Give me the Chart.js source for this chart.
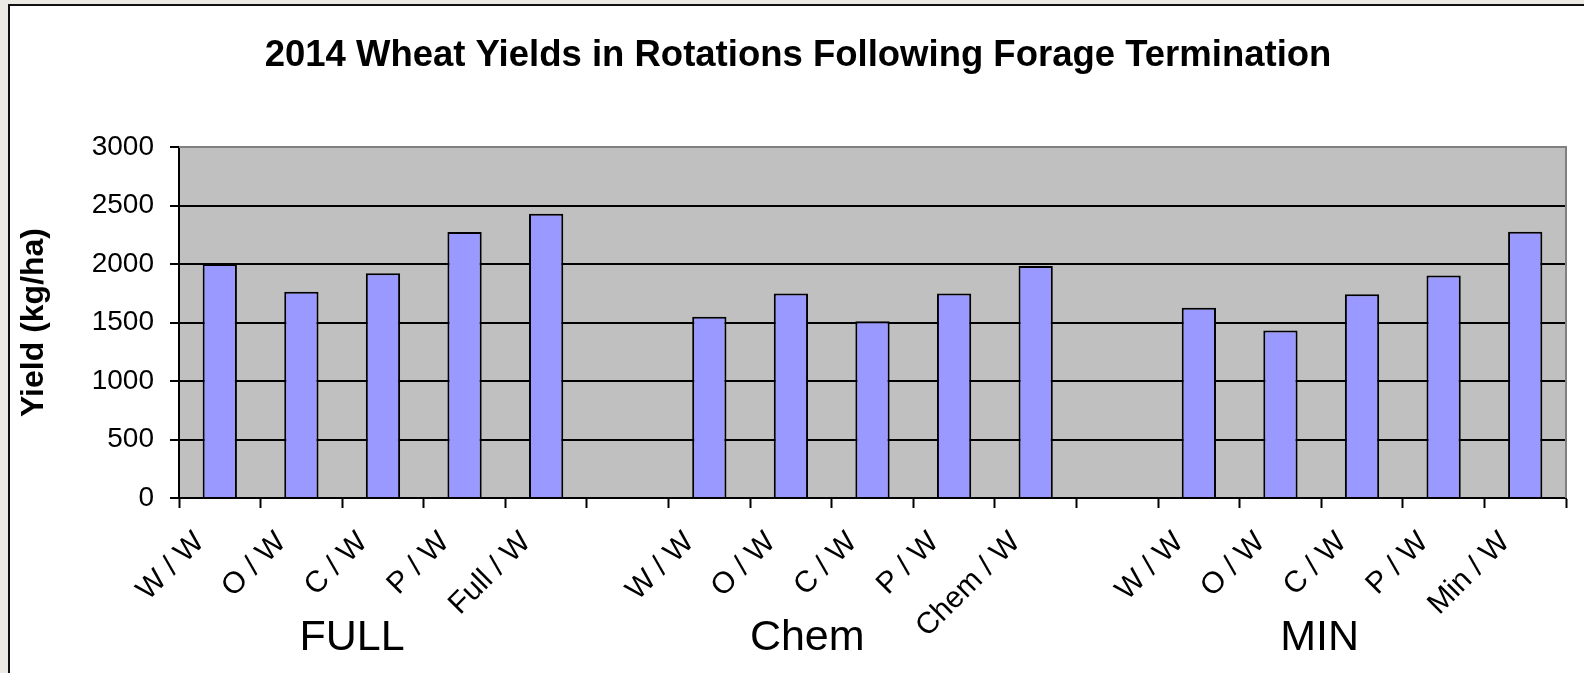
<!DOCTYPE html>
<html>
<head>
<meta charset="utf-8">
<title>2014 Wheat Yields</title>
<script src="https://cdn.jsdelivr.net/npm/chart.js@4"></script>
<style>
  html, body { margin: 0; padding: 0; background: #fff; }
  #wrap { width: 1584px; height: 673px; position: relative; }
</style>
</head>
<body>
<div id="wrap"><canvas id="grafico"></canvas></div>
<script>
// Datos del gráfico
const titulo = '2014 Wheat Yields in Rotations Following Forage Termination';
const categorias = ['W / W', 'O / W', 'C / W', 'P / W', 'Full / W', '',
                    'W / W', 'O / W', 'C / W', 'P / W', 'Chem / W', '',
                    'W / W', 'O / W', 'C / W', 'P / W', 'Min / W'];
const rendimiento = [2000, 1763, 1922, 2273, 2430, null,
                     1549, 1748, 1511, 1748, 1982, null,
                     1626, 1432, 1742, 1902, 2276];
const grupos = ['FULL', 'Chem', 'MIN'];
const ticksY = [0, 500, 1000, 1500, 2000, 2500, 3000];

const fuente = "'Liberation Sans', Arial, sans-serif";

// Marco, título, fondo del área del gráfico y etiquetas de grupo
const decoracion = {
    id: 'decoracion',
    beforeDraw(chart) {
        const ctx = chart.ctx;
        const a = chart.chartArea;
        ctx.save();
        ctx.fillStyle = '#eceae4';
        ctx.fillRect(0, 0, chart.width, chart.height);
        ctx.fillStyle = '#ffffff';
        ctx.fillRect(8, 4, chart.width - 8, chart.height - 4);
        ctx.strokeStyle = '#111';
        ctx.lineWidth = 2;
        ctx.beginPath();
        ctx.moveTo(9, chart.height);
        ctx.lineTo(9, 5);
        ctx.lineTo(chart.width, 5);
        ctx.stroke();
        ctx.fillStyle = '#c0c0c0';
        ctx.fillRect(a.left, a.top, a.right - a.left, a.bottom - a.top);
        // título
        ctx.fillStyle = '#000';
        ctx.font = 'bold 36.5px ' + fuente;
        ctx.textAlign = 'center';
        ctx.textBaseline = 'alphabetic';
        ctx.fillText(titulo, 798, 66);
        ctx.restore();
    },
    afterDatasetsDraw(chart) {
        const ctx = chart.ctx;
        const a = chart.chartArea;
        ctx.save();
        ctx.strokeStyle = '#808080';
        ctx.lineWidth = 2;
        ctx.beginPath();
        ctx.moveTo(a.left, a.top);
        ctx.lineTo(a.right, a.top);
        ctx.lineTo(a.right, a.bottom);
        ctx.stroke();
        ctx.restore();
    },
    afterDraw(chart) {
        const ctx = chart.ctx;
        const x = chart.scales.x;
        const paso = x.width / categorias.length;
        const anclas = [2.12, 7.7, 13.98];  // posición en unidades de categoría
        ctx.save();
        ctx.fillStyle = '#000';
        ctx.font = '43px ' + fuente;
        ctx.textAlign = 'center';
        ctx.textBaseline = 'alphabetic';
        grupos.forEach((g, i) => {
            ctx.fillText(g, x.left + anclas[i] * paso, 650);
        });
        ctx.restore();
    }
};

const ctx = document.getElementById('grafico').getContext('2d');
new Chart(ctx, {
    type: 'bar',
    data: {
        labels: categorias,
        datasets: [{
            label: 'Yield',
            data: rendimiento,
            backgroundColor: '#9999ff',
            borderColor: '#000',
            borderWidth: 2,
            barPercentage: 0.42,
            categoryPercentage: 1
        }]
    },
    options: {
        responsive: true,
        maintainAspectRatio: false,
        animation: false,
        layout: { padding: { left: 8, right: 18, top: 147, bottom: 0 } },
        plugins: {
            legend: { display: false },
            tooltip: { enabled: false },
            title: { display: false }
        },
        scales: {
            x: {
                offset: true,
                grid: {
                    offset: true,
                    drawOnChartArea: false,
                    tickLength: 10,
                    tickColor: '#000',
                    tickWidth: 2,
                    color: '#000'
                },
                border: { color: '#000', width: 2 },
                ticks: {
                    autoSkip: false,
                    minRotation: 45,
                    maxRotation: 45,
                    padding: 17,
                    labelOffset: -20,
                    color: '#000',
                    font: { family: fuente, size: 30 }
                },
                afterFit(s) { s.height = 175; }
            },
            y: {
                min: 0,
                max: 3000,
                afterBuildTicks(s) { s.ticks = ticksY.map(v => ({ value: v })); },
                grid: {
                    color: c => (c.tick && c.tick.value === 3000) ? '#808080' : '#000',
                    lineWidth: 2,
                    tickLength: 9,
                    tickColor: '#000',
                    tickWidth: 2
                },
                border: { color: '#000', width: 2 },
                ticks: {
                    padding: 16,
                    color: '#000',
                    font: { family: fuente, size: 28 },
                    callback: v => String(v)
                },
                title: {
                    display: true,
                    text: 'Yield (kg/ha)',
                    color: '#000',
                    font: { family: fuente, size: 32, weight: 'bold', lineHeight: 1.2 },
                    padding: { top: 7, bottom: 0 }
                },
                afterFit(s) { s.width = 171; }
            }
        }
    },
    plugins: [decoracion]
});
</script>
</body>
</html>
